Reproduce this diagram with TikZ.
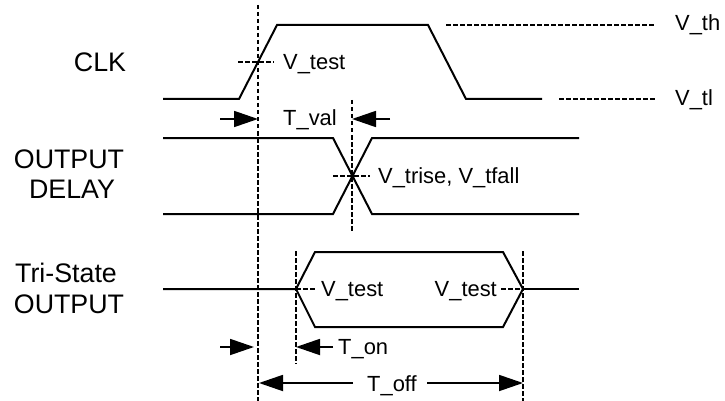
\documentclass[tikz,border=0pt]{standalone}
\usepackage{fontspec}
\setmainfont{Liberation Sans}
\usetikzlibrary{arrows.meta}
\usetikzlibrary{positioning}

\begin{document}
\begin{tikzpicture}[
    x=1pt, y=-1pt,
    every node/.style={font=\fontsize{21.9}{26}\selectfont, inner sep=0pt, anchor=base west},
    signal/.style={line width=2pt, line join=miter},
    guide/.style={line width=1.4pt, dash pattern=on 4.5pt off 2.5pt},
    measure/.style={line width=1.8pt, -{Triangle[length=24pt, width=16pt]}},
    title/.style={font=\fontsize{26.8}{30}\selectfont, anchor=base}]

\useasboundingbox (0,0) rectangle (725,401);

% Guide points
\coordinate (clkedge) at (258,0);
\coordinate (dlyedge) at (352,0);
\coordinate (onedge) at (296,0);
\coordinate (offedge) at (523,0);

% Nodes
\node[title] (clk) at (100,72) {CLK};
\node[title] (dly) at (69,168) {OUTPUT};
\node[title] (dlyb) at (72,198) {DELAY};
\node[title] (tri) at (66,282) {Tri-State};
\node[title] (trib) at (69,313) {OUTPUT};

\node (vtestclk) at (283,70) {V\_test};
\node (vth) at (675,31) {V\_th};
\node (vtl) at (675,106) {V\_tl};
\node (tval) at (283,126) {T\_val};
\node (vtrise) at (378,183) {V\_trise, V\_tfall};
\node (vtestl) at (321,296) {V\_test};
\node[anchor=base east] (vtestr) at (497,296) {V\_test};
\node (ton) at (338,354) {T\_on};
\node (toff) at (367,391) {T\_off};

% Waveforms
\draw[signal] (163,99) -- (239,99) -- (277,25) -- (428,25) -- (466,99) -- (542,99);
\draw[signal] (163,138) -- (333,138) -- (372,214) -- (579,214);
\draw[signal] (163,214) -- (333,214) -- (372,138) -- (579,138);
\draw[signal] (163,289) -- (296,289) -- (315,252) -- (503,252) -- (523,289)
    -- (503,327) -- (315,327) -- (296,289);
\draw[signal] (523,289) -- (579,289);

% Guides
\draw[guide] (clkedge |- 0,5) -- (clkedge |- 0,401);
\draw[guide] (dlyedge |- 0,100) -- (dlyedge |- 0,232);
\draw[guide] (onedge |- 0,251) -- (onedge |- 0,364);
\draw[guide] (offedge |- 0,251) -- (offedge |- 0,401);
\draw[guide] (446,25) -- (655,25);
\draw[guide] (559,99) -- (655,99);
\draw[guide] (238,62) -- (274,62);
\draw[guide] (333,176) -- (370,176);
\draw[guide] (onedge |- 0,289) -- ([xshift=-5pt]vtestl.west |- 0,289);
\draw[guide] ([xshift=4pt]vtestr.east |- 0,289) -- (offedge |- 0,289);

% Arrows
\draw[measure] (220,119) -- (clkedge |- 0,119);
\draw[measure] (390,119) -- (dlyedge |- 0,119);
\draw[measure] (220,347) -- ([xshift=-4pt]clkedge |- 0,347);
\draw[measure] ([xshift=-5pt]ton.west |- 0,347) -- (onedge |- 0,347);
\draw[measure] (353,383) -- ([xshift=1pt]clkedge |- 0,383);
\draw[measure] (427,383) -- (offedge |- 0,383);
\end{tikzpicture}
\end{document}
